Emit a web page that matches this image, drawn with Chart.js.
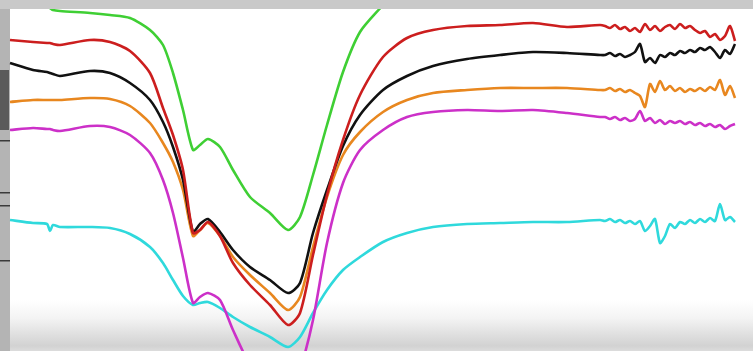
<!DOCTYPE html>
<html>
<head>
<meta charset="utf-8">
<script src="https://cdn.jsdelivr.net/npm/chart.js@4/dist/chart.umd.min.js"></script>
<style>
  body { margin: 0; background: #fff; }
  #wrap { width: 753px; height: 351px; position: relative; }
</style>
</head>
<body>
<div id="wrap"><canvas id="spectra"></canvas></div>
<script>
// sample positions along the trace (denser at the noisy right end)
const xs = [10, 33, 47, 50, 53, 60, 90, 110, 130, 150, 163, 173, 183, 193, 200, 208, 220, 233, 250, 270,
    288, 300, 313, 327, 343, 360, 383, 407, 433, 467, 500, 533, 567, 600,
    605, 610, 615, 620, 625, 630, 635, 640, 645, 650, 655, 660, 665, 670, 675, 680, 685, 690, 695, 700,
    705, 710, 715, 720, 725, 730, 735];

// trace depth (larger = lower on screen)
const green = [-2, 4, 7, 8, 10, 11, 13, 15, 18, 30, 45, 73, 110, 150, 145, 139, 147, 170, 197, 213,
    230, 217, 175, 125, 72, 32, 5, null, null, null, null, null, null, null,
    null, null, null, null, null, null, null, null, null, null, null, null, null, null, null, null, null, null, null, null,
    null, null, null, null, null, null, null];
const red = [40, 42, 43, 43, 44, 45, 40, 42, 51, 73, 108, 135, 170, 233, 230, 222, 236, 263, 285, 305,
    325, 313, 255, 195, 140, 95, 57, 38, 30, 26, 25, 23, 27, 25,
    26, 28, 25, 29, 27, 31, 28, 32, 24, 30, 26, 31, 27, 25, 29, 24, 28, 26, 30, 33,
    31, 37, 34, 40, 36, 26, 41];
const black = [63, 70, 72, 73, 74, 76, 71, 73, 83, 100, 122, 147, 180, 232, 224, 219, 232, 250, 267, 280,
    293, 283, 233, 190, 146, 115, 90, 76, 66, 59, 55, 52, 53, 55,
    55, 53, 56, 54, 57, 55, 52, 44, 62, 58, 63, 55, 57, 53, 55, 51, 53, 50, 52, 48,
    50, 47, 52, 58, 50, 54, 44];
const orange = [102, 100, 100, 100, 100, 100, 98, 99, 106, 123, 143, 162, 190, 236, 230, 223, 236, 257, 275, 293,
    310, 297, 247, 197, 155, 132, 112, 100, 93, 90, 88, 88, 88, 90,
    90, 88, 91, 89, 92, 90, 93, 96, 107, 84, 92, 81, 90, 86, 91, 88, 92, 89, 91, 88,
    91, 87, 90, 80, 95, 86, 98];
const magenta = [130, 128, 129, 129, 130, 131, 126, 127, 135, 153, 180, 213, 258, 303, 297, 293, 300, 330, 365, 390,
    400, 370, 320, 243, 183, 150, 130, 117, 112, 110, 111, 110, 113, 117,
    117, 119, 117, 120, 118, 121, 119, 111, 121, 118, 123, 120, 124, 121, 123, 121, 124, 122, 125, 123,
    126, 124, 127, 125, 129, 126, 124];
const cyan = [220, 223, 224, 231, 225, 227, 227, 228, 234, 247, 263, 280, 296, 305, 303, 302, 308, 317, 327, 337,
    347, 337, 313, 290, 270, 257, 242, 233, 227, 224, 223, 222, 222, 220,
    221, 219, 222, 220, 223, 221, 224, 221, 231, 226, 219, 243, 236, 224, 228, 222, 224, 220, 223, 219,
    222, 218, 221, 204, 220, 217, 222];

const traces = [
    { name: 'green', values: green, color: '#3fcf34' },
    { name: 'red', values: red, color: '#cc1e1e' },
    { name: 'black', values: black, color: '#111111' },
    { name: 'orange', values: orange, color: '#e8871f' },
    { name: 'magenta', values: magenta, color: '#cc30c8' },
    { name: 'cyan', values: cyan, color: '#2fd9dc' },
];

// photo-ish backdrop: left strip, white sheet, grey bottom edge, grey top band
const backdrop = {
    id: 'backdrop',
    beforeDraw(chart) {
        const ctx = chart.ctx;
        const w = chart.width, h = chart.height;
        ctx.save();
        ctx.fillStyle = '#ffffff';
        ctx.fillRect(0, 0, w, h);
        const g = ctx.createLinearGradient(0, 300, 0, h);
        g.addColorStop(0, 'rgba(255,255,255,1)');
        g.addColorStop(0.35, '#f4f4f4');
        g.addColorStop(0.7, '#dedede');
        g.addColorStop(0.9, '#d2d2d2');
        g.addColorStop(1, '#dcdcdc');
        ctx.fillStyle = g;
        ctx.fillRect(0, 300, w, h - 300);
        // left strip
        ctx.fillStyle = '#b4b4b4';
        ctx.fillRect(0, 0, 10, h);
        ctx.fillStyle = '#5a5a5a';
        ctx.fillRect(0, 70, 9, 60);
        ctx.fillStyle = '#3a3a3a';
        [140, 192, 205, 260].forEach(y => ctx.fillRect(0, y, 10, 1.5));
        ctx.restore();
    },
    afterDatasetsDraw(chart) {
        const ctx = chart.ctx;
        ctx.save();
        ctx.fillStyle = '#c9c9c9';
        ctx.fillRect(0, 0, chart.width, 9);
        ctx.restore();
    }
};

new Chart(document.getElementById('spectra'), {
    type: 'line',
    data: {
        datasets: traces.map(t => ({
            label: t.name,
            data: xs.map((x, i) => ({ x: x, y: t.values[i] })),
            borderColor: t.color,
            borderWidth: 2.6,
            pointRadius: 0,
            tension: 0.25,
            fill: false,
        }))
    },
    options: {
        responsive: true,
        maintainAspectRatio: false,
        animation: false,
        layout: { padding: 0 },
        scales: {
            x: { type: 'linear', min: 0, max: 753, display: false },
            y: { min: 0, max: 351, reverse: true, display: false },
        },
        plugins: {
            legend: { display: false },
            tooltip: { enabled: false },
        },
    },
    plugins: [backdrop],
});
</script>
</body>
</html>
